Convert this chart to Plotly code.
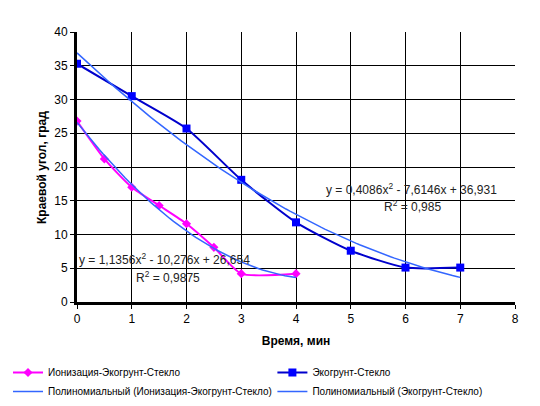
import numpy as np
import plotly.graph_objects as go

# Data
time_ion = [0, 0.5, 1, 1.5, 2, 2.5, 3, 4]
angle_ion = [26.8, 21.2, 17.0, 14.3, 11.6, 8.1, 4.2, 4.2]

time_eco = [0, 1, 2, 3, 4, 5, 6, 7]
angle_eco = [35.3, 30.5, 25.7, 18.1, 11.8, 7.6, 5.1, 5.1]

name_ion = "Ионизация-Экогрунт-Стекло"
name_eco = "Экогрунт-Стекло"

# Polynomial (2nd order) trendlines fitted to the data, like Excel does
c_ion = np.polyfit(time_ion, angle_ion, 2)
c_eco = np.polyfit(time_eco, angle_eco, 2)
tx_ion = np.linspace(0, 4, 60)
tx_eco = np.linspace(0, 7, 100)

fig = go.Figure()

fig.add_trace(go.Scatter(
    x=time_ion, y=angle_ion, name=name_ion, mode="lines+markers",
    line=dict(color="#FF00FF", width=2, shape="spline", smoothing=0.6),
    marker=dict(symbol="diamond", size=7, color="#FF00FF"),
    legend="legend",
))
fig.add_trace(go.Scatter(
    x=time_eco, y=angle_eco, name=name_eco, mode="lines+markers",
    line=dict(color="#0000CC", width=2, shape="spline", smoothing=0.6),
    marker=dict(symbol="square", size=8, color="#0000FF"),
    legend="legend2",
))
fig.add_trace(go.Scatter(
    x=tx_ion, y=np.polyval(c_ion, tx_ion), mode="lines",
    name="Полиномиальный (" + name_ion + ")",
    line=dict(color="#3366FF", width=1.5),
    legend="legend",
))
fig.add_trace(go.Scatter(
    x=tx_eco, y=np.polyval(c_eco, tx_eco), mode="lines",
    name="Полиномиальный (" + name_eco + ")",
    line=dict(color="#3366FF", width=1.5),
    legend="legend2",
))

font = "Liberation Sans, Arial, sans-serif"
ann_font = dict(family=font, size=12, color="#222222")

fig.add_annotation(x=0.0, y=6.3, text="y = 1,1356x<sup>2</sup> - 10,276x + 26,654",
                   xanchor="left", showarrow=False, font=ann_font)
fig.add_annotation(x=1.67, y=3.7, text="R<sup>2</sup> = 0,9875",
                   showarrow=False, font=ann_font)
fig.add_annotation(x=6.11, y=16.7, text="y = 0,4086x<sup>2</sup> - 7,6146x + 36,931",
                   showarrow=False, font=ann_font)
fig.add_annotation(x=6.12, y=14.2, text="R<sup>2</sup> = 0,985",
                   showarrow=False, font=ann_font)

# y axis title as an annotation (the axis title jumps right with two legends)
fig.add_annotation(xref="paper", yref="paper", x=-0.08, y=0.5,
                   xanchor="center", yanchor="middle",
                   text="<b>Краевой угол, град</b>", textangle=-90,
                   showarrow=False, font=dict(family=font, size=12, color="black"))

# page body has an 8px margin, so the figure is a bit smaller than the window
fig.update_layout(
    width=532, height=398,
    margin=dict(l=69, r=25, t=24, b=104, autoexpand=False),
    paper_bgcolor="white", plot_bgcolor="white",
    font=dict(family=font, size=12, color="black"),
    showlegend=True,
    legend=dict(
        orientation="v", xref="container", yref="container",
        x=0.0, y=1 - 350 / 398, xanchor="left", yanchor="top",
        itemwidth=30, tracegroupgap=0, bgcolor="rgba(0,0,0,0)",
        font=dict(family=font, size=10, color="black"),
    ),
    legend2=dict(
        orientation="v", xref="container", yref="container",
        x=0.497, y=1 - 350 / 398, xanchor="left", yanchor="top",
        itemwidth=30, tracegroupgap=0, bgcolor="rgba(0,0,0,0)",
        font=dict(family=font, size=10, color="black"),
    ),
    xaxis=dict(
        range=[0, 8], dtick=1, showgrid=True, gridcolor="black", gridwidth=1,
        showline=True, linecolor="black", linewidth=3,
        ticks="outside", tickcolor="black", ticklen=4, tickwidth=1,
        zeroline=False,
        title=dict(text="<b>Время, мин</b>", font=dict(size=12), standoff=12),
    ),
    yaxis=dict(
        range=[0, 40], dtick=5, showgrid=True, gridcolor="black", gridwidth=1,
        showline=True, linecolor="black", linewidth=3,
        ticks="outside", tickcolor="black", ticklen=4, tickwidth=1,
        zeroline=False,
    ),
)

fig.write_html("out.html")
